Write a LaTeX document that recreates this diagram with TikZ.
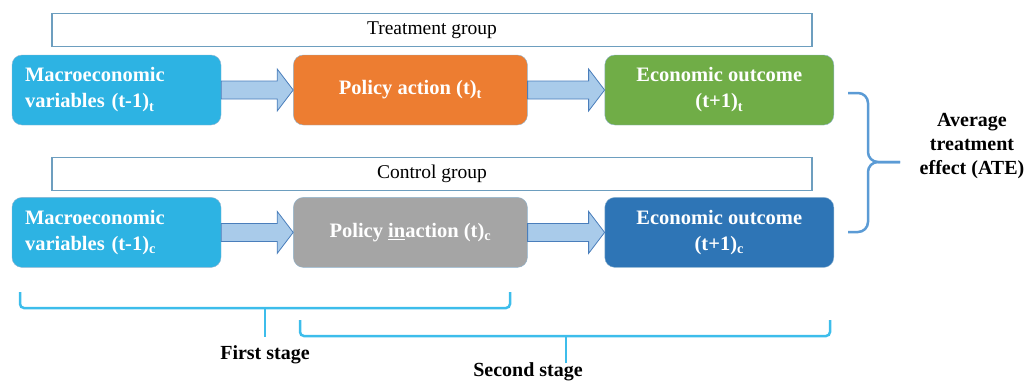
\documentclass[tikz,border=0pt]{standalone}
\usepackage{fontspec}
\setmainfont{Liberation Serif}
\usepackage{tikz}
\usetikzlibrary{positioning,calc}
\definecolor{MacroBlue}{HTML}{2DB3E3}
\definecolor{PolicyOrange}{HTML}{ED7D31}
\definecolor{OutcomeGreen}{HTML}{70AD47}
\definecolor{InactionGray}{HTML}{A5A5A5}
\definecolor{OutcomeBlue}{HTML}{2E75B6}
\definecolor{ArrowFill}{HTML}{A9CBEA}
\definecolor{ArrowLine}{HTML}{4A7EBB}
\definecolor{GroupLine}{HTML}{6D9EBF}
\definecolor{BoxLine}{HTML}{8FB4D0}
\definecolor{StageBrace}{HTML}{3DBDEB}
\definecolor{AteBrace}{HTML}{5B9BD5}

\begin{document}
\begin{tikzpicture}[x=1pt,y=-1pt,
                    font=\fontsize{19.5}{24}\selectfont,
                    stagebox/.style={draw=BoxLine, rounded corners=10pt, text=white,
                                     font=\bfseries\fontsize{20.5}{26}\selectfont,
                                     minimum height=70pt, inner sep=0pt, align=center},
                    groupbox/.style={draw=GroupLine, line width=1.2pt, minimum width=760pt,
                                     minimum height=33pt, inner sep=0pt},
                    blockarrow/.style={draw=ArrowLine, fill=ArrowFill, line width=0.8pt,
                                       to path={let \p1=(\tikztostart), \p2=(\tikztotarget) in
                                                (\x1,\y1+9pt) -- (\x2-16pt,\y1+9pt) -- (\x2-16pt,\y1+21pt)
                                                -- (\x2,\y1) -- (\x2-16pt,\y1-21pt) -- (\x2-16pt,\y1-9pt)
                                                -- (\x1,\y1-9pt) -- cycle}},
                    stagebrace/.style={draw=StageBrace, line width=2.5pt, rounded corners=4pt},
                    atebrace/.style={draw=AteBrace, line width=2.5pt, rounded corners=10pt},
                    bracelabel/.style={font=\bfseries\fontsize{20}{24}\selectfont, align=center, inner sep=0pt}]
\useasboundingbox (0,0) rectangle (1031,383);
\node[groupbox] (treat) at (432,30) {Treatment group};
\node[stagebox, fill=MacroBlue, text width=183pt, inner xsep=13pt, align=left] (macroT) at (116.5,90)
     {Macroeconomic\\variables (t-1)\textsubscript{t}};
\node[stagebox, fill=PolicyOrange, minimum width=234pt, right=72pt of macroT] (policyT)
     {Policy action (t)\textsubscript{t}};
\node[stagebox, fill=OutcomeGreen, minimum width=229pt, right=77pt of policyT] (econT)
     {Economic outcome\\(t+1)\textsubscript{t}};
\node[groupbox] (control) at (432,174) {Control group};
\node[stagebox, fill=MacroBlue, text width=183pt, inner xsep=13pt, align=left, below=72pt of macroT] (macroC)
     {Macroeconomic\\variables (t-1)\textsubscript{c}};
\node[stagebox, fill=InactionGray, minimum width=234pt, right=72pt of macroC] (policyC)
     {Policy \underline{in}action (t)\textsubscript{c}};
\node[stagebox, fill=OutcomeBlue, minimum width=229pt, right=77pt of policyC] (econC)
     {Economic outcome\\(t+1)\textsubscript{c}};
\draw[blockarrow] (macroT.east) to (policyT.west);
\draw[blockarrow] (policyT.east) to (econT.west);
\draw[blockarrow] (macroC.east) to (policyC.west);
\draw[blockarrow] (policyC.east) to (econC.west);
\coordinate (ateTip) at (900,162);
\draw[atebrace] (848,93) -| (868,162) -- (ateTip);
\draw[atebrace] (848,232) -| (868,162) -- (ateTip);
\node[bracelabel] (ate) at (972,146) {Average\\treatment\\effect (ATE)};
\coordinate (firstTip) at (265,337);
\coordinate (secondTip) at (566,363);
\draw[stagebrace] (20,292) |- (510,308) -- (510,292);
\draw[stagebrace] (265,308) -- (firstTip);
\draw[stagebrace] (300,320) |- (830,336) -- (830,320);
\draw[stagebrace] (566,336) -- (secondTip);
\node[bracelabel] (first) at (265,355) {First stage};
\node[bracelabel] (second) at (528,372) {Second stage};
\end{tikzpicture}
\end{document}
